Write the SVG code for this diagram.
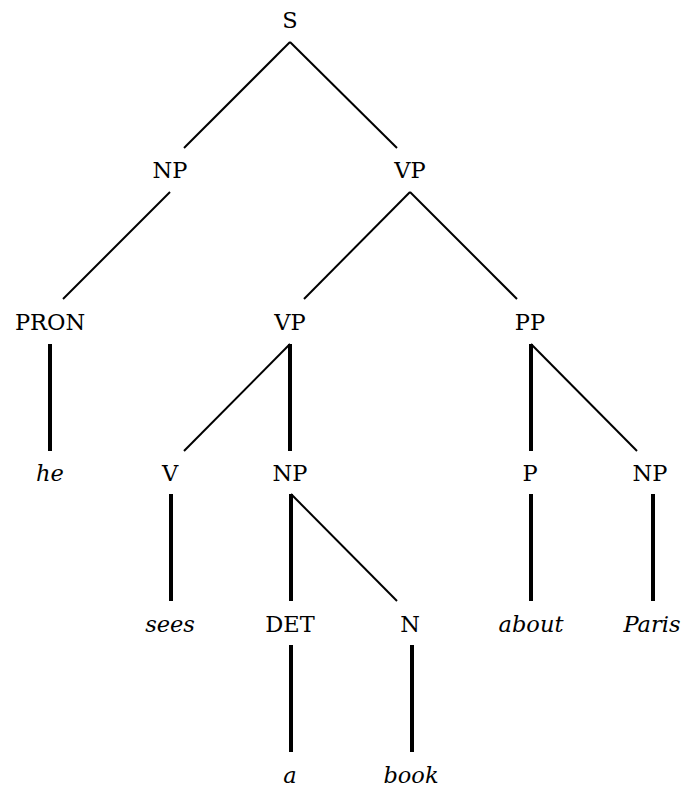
<svg xmlns="http://www.w3.org/2000/svg" width="689" height="792" viewBox="0 0 689 792">
  <style>
    .lbl { font-family: "DejaVu Serif", "Liberation Serif", serif; font-size: 22.5px; fill: #000; text-anchor: middle; }
    .word { font-style: italic; }
    .branch { stroke: #000; stroke-width: 2; fill: none; }
    .head { stroke: #000; stroke-width: 4; fill: none; }
  </style>
  <rect width="689" height="792" fill="#fff"/>

  <!-- tree edges -->
  <g id="connectors">
    <line class="branch" x1="290" y1="42" x2="184" y2="148"/>
    <line class="branch" x1="290" y1="42" x2="397" y2="148"/>
    <line class="branch" x1="170" y1="192" x2="63" y2="299"/>
    <line class="branch" x1="410" y1="192" x2="304" y2="299"/>
    <line class="branch" x1="410" y1="192" x2="517" y2="299"/>
    <line class="head" x1="50" y1="344" x2="50" y2="451"/>
    <line class="branch" x1="290" y1="344" x2="184" y2="451"/>
    <line class="head" x1="290" y1="344" x2="290" y2="451"/>
    <line class="head" x1="531" y1="344" x2="531" y2="451"/>
    <line class="branch" x1="531" y1="344" x2="637" y2="451"/>
    <line class="head" x1="171" y1="494" x2="171" y2="601"/>
    <line class="head" x1="291" y1="494" x2="291" y2="601"/>
    <line class="branch" x1="291" y1="494" x2="397" y2="601"/>
    <line class="head" x1="531" y1="494" x2="531" y2="601"/>
    <line class="head" x1="653" y1="494" x2="653" y2="601"/>
    <line class="head" x1="291" y1="645" x2="291" y2="752"/>
    <line class="head" x1="412" y1="645" x2="412" y2="752"/>
  </g>

  <!-- phrase and word nodes -->
  <g id="n-s"><text class="lbl" x="290" y="28">S</text></g>
  <g id="n-np1"><text class="lbl" x="170" y="178">NP</text></g>
  <g id="n-vp1"><text class="lbl" x="410" y="178">VP</text></g>
  <g id="n-pron"><text class="lbl" x="50" y="330">PRON</text></g>
  <g id="n-vp2"><text class="lbl" x="290" y="330">VP</text></g>
  <g id="n-pp"><text class="lbl" x="530" y="330">PP</text></g>
  <g id="n-he"><text class="lbl word" x="50" y="481">he</text></g>
  <g id="n-v"><text class="lbl" x="170" y="481">V</text></g>
  <g id="n-np2"><text class="lbl" x="290" y="481">NP</text></g>
  <g id="n-p"><text class="lbl" x="530" y="481">P</text></g>
  <g id="n-np3"><text class="lbl" x="650" y="481">NP</text></g>
  <g id="n-sees"><text class="lbl word" x="170" y="632">sees</text></g>
  <g id="n-det"><text class="lbl" x="290" y="632">DET</text></g>
  <g id="n-n"><text class="lbl" x="410" y="632">N</text></g>
  <g id="n-about"><text class="lbl word" x="531" y="632">about</text></g>
  <g id="n-paris"><text class="lbl word" x="652" y="632">Paris</text></g>
  <g id="n-a"><text class="lbl word" x="290" y="783">a</text></g>
  <g id="n-book"><text class="lbl word" x="411" y="783">book</text></g>
</svg>
